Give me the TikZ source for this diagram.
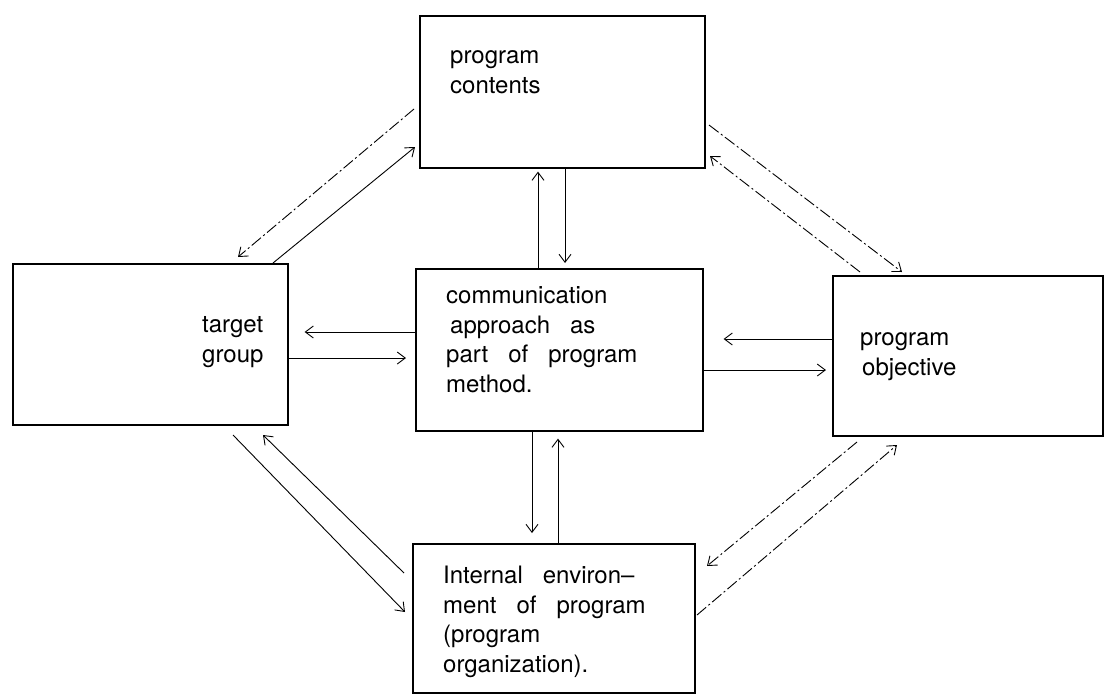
\documentclass[tikz,border=0pt]{standalone}
\usepackage{fontspec}
\setmainfont{TeX Gyre Heros}[WordSpace=3]
\usetikzlibrary{arrows.meta}
\begin{document}
\begin{tikzpicture}[x=1pt,y=-1pt,
  box/.style={draw, line width=1.6pt, rectangle, inner sep=0pt, anchor=north west},
  txt/.style={anchor=base west, inner sep=0pt, align=left, font=\fontsize{24}{29.5}\selectfont},
  arr/.style={-{Straight Barb[length=8pt,width=12pt]}, line width=0.9pt},
  dsh/.style={arr, dash pattern=on 12pt off 3pt on 2pt off 3pt}]
\useasboundingbox (0,0) rectangle (1104,694);

% boxes
\node[box, minimum width=285pt, minimum height=152pt] (contents) at (419,15) {};
\node[box, minimum width=275pt, minimum height=161pt] (target) at (12,263) {};
\node[box, minimum width=287pt, minimum height=162pt] (comm) at (415,268) {};
\node[box, minimum width=270pt, minimum height=160pt] (objective) at (832,275) {};
\node[box, minimum width=282pt, minimum height=149pt] (internal) at (412,543) {};

% labels (placed by the baseline of their last line)
\node[txt] (contentsT) at (450,93) {program\\contents};
\node[txt] (targetT) at (202,362) {target\\group};
\node[txt] (commT) at (446,392) {communication\\\hspace{4pt}approach as\\part of program\\method.};
\node[txt] (objectiveT) at (860,375) {program\\\hspace{2pt}objective};
\node[txt] (internalT) at (443,672) {Internal environ--\\ment of program\\(program\\organization).};

% vertical arrows
\draw[arr, shorten >=3pt] (comm.north -| 538,0) -- (contents.south -| 538,0);
\draw[arr, shorten >=5pt] (contents.south -| 565,0) -- (comm.north -| 565,0);
\draw[arr, shorten >=10pt] (comm.south -| 532,0) -- (internal.north -| 532,0);
\draw[arr, shorten >=7pt] (internal.north -| 558,0) -- (comm.south -| 558,0);

% horizontal arrows
\draw[arr, shorten >=16pt] (comm.west |- 0,332) -- (target.east |- 0,332);
\draw[arr, shorten >=9pt] (target.east |- 0,358) -- (comm.west |- 0,358);
\draw[arr, shorten >=20pt] (objective.west |- 0,339) -- (comm.east |- 0,339);
\draw[arr, shorten >=6pt] (comm.east |- 0,370) -- (objective.west |- 0,370);

% free ends of the diagonal arrows
\coordinate (tl1) at (414,109); \coordinate (tl1e) at (238,257);
\coordinate (tl2) at (273,263); \coordinate (tl2e) at (415,147);
\coordinate (tr1) at (709,125); \coordinate (tr1e) at (902,272);
\coordinate (tr2) at (860,272); \coordinate (tr2e) at (710,156);
\coordinate (bl1) at (233,435); \coordinate (bl1e) at (405,612);
\coordinate (bl2) at (404,573); \coordinate (bl2e) at (263,435);
\coordinate (br1) at (857,442); \coordinate (br1e) at (707,566);
\coordinate (br2) at (697,615); \coordinate (br2e) at (897,445);

% diagonal arrows
\draw[dsh] (tl1) -- (tl1e);
\draw[arr] (tl2) -- (tl2e);
\draw[dsh] (tr1) -- (tr1e);
\draw[dsh] (tr2) -- (tr2e);
\draw[arr] (bl1) -- (bl1e);
\draw[arr] (bl2) -- (bl2e);
\draw[dsh] (br1) -- (br1e);
\draw[dsh] (br2) -- (br2e);
\end{tikzpicture}
\end{document}
